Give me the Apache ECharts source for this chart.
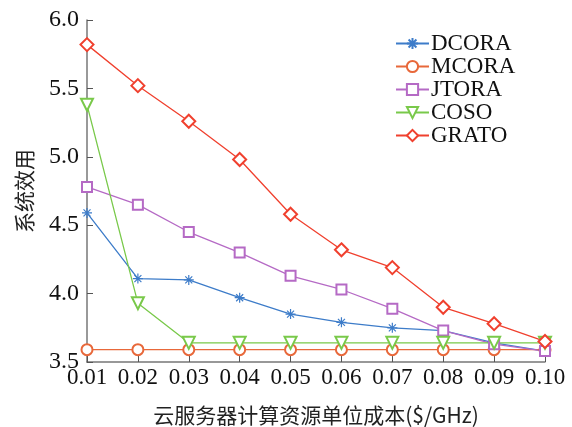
<!DOCTYPE html>
<html>
<head>
<meta charset="utf-8">
<script src="https://cdn.jsdelivr.net/npm/echarts@6/dist/echarts.min.js"></script>
<style>
html, body { margin: 0; padding: 0; background: #fff; }
#main { width: 572px; height: 427px; }
</style>
</head>
<body>
<div id="main"></div>
<script>
var costs = ['0.01', '0.02', '0.03', '0.04', '0.05', '0.06', '0.07', '0.08', '0.09', '0.10'];
var dcora = [4.59, 4.11, 4.10, 3.97, 3.85, 3.79, 3.75, 3.73, 3.64, 3.58];
var mcora = [3.59, 3.59, 3.59, 3.59, 3.59, 3.59, 3.59, 3.59, 3.59, 3.59];
var jtora = [4.78, 4.65, 4.45, 4.30, 4.13, 4.03, 3.89, 3.73, 3.63, 3.58];
var coso = [5.38, 3.93, 3.64, 3.64, 3.64, 3.64, 3.64, 3.64, 3.64, 3.64];
var grato = [5.82, 5.52, 5.26, 4.98, 4.58, 4.32, 4.19, 3.90, 3.78, 3.65];

var serif = '"Liberation Serif", "Times New Roman", serif';
var cjk = '"Noto Sans CJK SC", sans-serif';
var star = 'path://M0,-6L0,6M-6,0L6,0M-4.2,-4.2L4.2,4.2M-4.2,4.2L4.2,-4.2';

function mk(name, data, color, symbol, size, rotate) {
    return {
        name: name,
        type: 'line',
        data: data,
        symbol: symbol,
        symbolSize: size,
        symbolRotate: rotate || 0,
        lineStyle: { color: color, width: 1.3 },
        itemStyle: { color: color, borderColor: color, borderWidth: 1.2 }
    };
}

var chart = echarts.init(document.getElementById('main'));
chart.setOption({
    animation: false,
    backgroundColor: '#fff',
    grid: { left: 87, right: 27, top: 20, bottom: 65, containLabel: false, outerBoundsMode: 'none' },
    legend: {
        orient: 'vertical',
        left: 395,
        top: 32,
        padding: 0,
        itemWidth: 33,
        itemHeight: 14,
        itemGap: 0,
        textStyle: { fontFamily: serif, fontSize: 23, color: '#111', lineHeight: 22.5, padding: [0, 0, 0, -3] }
    },
    xAxis: {
        type: 'category',
        data: costs,
        boundaryGap: false,
        name: '云服务器计算资源单位成本($/GHz)',
        nameLocation: 'middle',
        nameGap: 43,
        nameTextStyle: { fontFamily: cjk, fontSize: 21, color: '#222' },
        axisLine: { lineStyle: { color: '#777', width: 1.5 } },
        axisTick: { inside: true, length: 6, interval: 0, lineStyle: { color: '#555' } },
        axisLabel: { fontFamily: serif, fontSize: 23, color: '#111', margin: 4, interval: 0, hideOverlap: false },
        splitLine: { show: false }
    },
    yAxis: {
        type: 'value',
        min: 3.5,
        max: 6.0,
        interval: 0.5,
        name: '系统效用',
        nameLocation: 'middle',
        nameGap: 52,
        nameTextStyle: { fontFamily: cjk, fontSize: 21, color: '#222' },
        axisLine: { show: true, lineStyle: { color: '#777', width: 1.5 } },
        axisTick: { show: true, inside: true, length: 6, lineStyle: { color: '#555' } },
        axisLabel: { fontFamily: serif, fontSize: 24, color: '#111', margin: 8,
            formatter: function (v) { return v.toFixed(1); } },
        splitLine: { show: false }
    },
    series: [
        mk('DCORA', dcora, '#3d7cc9', star, 10),
        mk('MCORA', mcora, '#e8683a', 'emptyCircle', 11),
        mk('JTORA', jtora, '#b56ac5', 'emptyRect', 10),
        mk('COSO', coso, '#79c94a', 'emptyTriangle', 12, 180),
        mk('GRATO', grato, '#f0402e', 'emptyDiamond', 13)
    ]
});
</script>
</body>
</html>
